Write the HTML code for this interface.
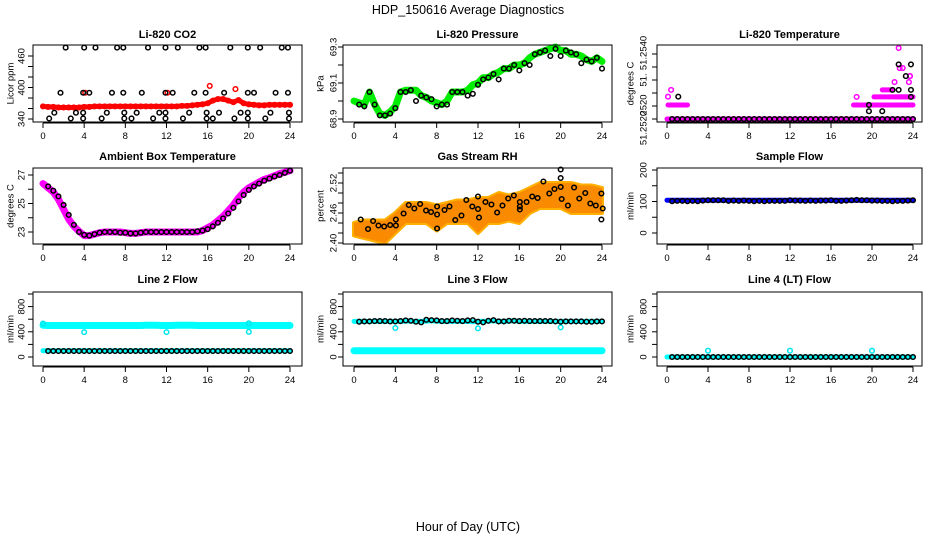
<!DOCTYPE html>
<html><head><meta charset="utf-8"><style>
html,body{margin:0;padding:0;background:#fff}
svg{display:block;font-family:"Liberation Sans",sans-serif}
</style></head><body>
<svg id="chart" width="936" height="540" viewBox="0 0 936 540">
<text x="468" y="14" text-anchor="middle" font-size="12.5">HDP_150616  Average Diagnostics</text>
<text x="468" y="531" text-anchor="middle" font-size="12.5">Hour of Day (UTC)</text>
</svg>
<script>
// ---------- data ----------
const xTicks = [0,4,8,12,16,20,24];
const halfHours = [0,0.5,1,1.5,2,2.5,3,3.5,4,4.5,5,5.5,6,6.5,7,7.5,8,8.5,9,9.5,10,10.5,11,11.5,12,12.5,13,13.5,14,14.5,15,15.5,16,16.5,17,17.5,18,18.5,19,19.5,20,20.5,21,21.5,22,22.5,23,23.5,24];
const blackHours = [0.5,1,1.5,2,2.5,3,3.5,4,4.5,5,5.5,6,6.5,7,7.5,8,8.5,9,9.5,10,10.5,11,11.5,12,12.5,13,13.5,14,14.5,15,15.5,16,16.5,17,17.5,18,18.5,19,19.5,20,20.5,21,21.5,22,22.5,23,23.5,24];

// CO2
const co2RedV = [364,363,363,362,362,362,362,362,363,363,364,364,364,364,364,364,364,364,364,364,364,364,364,364,364,364,364,365,365,366,367,368,370,375,378,378,375,372,376,370,368,367,366,366,367,367,367,367,367];
const co2RedOutH = [16.2,18.7,4.1,12.1];
const co2RedOutV = [403,397,390,390];
const co2BlackH = [2.2,4.0,5.1,7.2,7.8,10.2,11.9,13.1,15.2,15.8,18.2,19.9,21.1,23.2,23.8, 1.7,3.9,4.5,6.7,7.8,9.6,11.9,12.6,14.7,15.8,17.6,19.9,20.5,22.6,23.8, 1.1,3.2,3.9,6.2,7.9,9.1,11.3,11.9,14.2,15.9,17.1,19.2,19.9,22.1,23.9, 0.6,2.7,3.9,5.7,7.9,8.6,10.7,11.9,13.6,15.9,16.5,18.6,19.9,21.6,23.9];
const co2BlackV = [476,476,476,476,476,476,476,476,476,476,476,476,476,476,476, 390,390,390,390,390,390,390,390,390,390,390,390,390,390,390, 352,352,352,352,352,352,352,352,352,352,352,352,352,352,352, 341,341,341,341,341,341,341,341,341,341,341,341,341,341,341];

// Pressure
const presGreenV = [69.0,68.99,68.98,69.05,68.98,68.93,68.92,68.94,68.97,69.05,69.06,69.06,69.06,69.03,69.02,69.0,68.99,68.98,69.0,69.05,69.05,69.05,69.06,69.09,69.1,69.13,69.13,69.15,69.16,69.18,69.18,69.2,69.2,69.21,69.24,69.26,69.27,69.28,69.29,69.30,69.28,69.28,69.26,69.26,69.25,69.23,69.22,69.24,69.22];
const presBlackV = [68.98,68.97,69.05,68.98,68.92,68.92,68.93,68.96,69.05,69.05,69.06,69.0,69.03,69.02,69.01,68.97,68.98,68.98,69.05,69.05,69.05,69.03,69.04,69.09,69.12,69.13,69.15,69.12,69.18,69.18,69.2,69.17,69.21,69.2,69.26,69.27,69.28,69.25,69.29,69.25,69.28,69.27,69.26,69.21,69.23,69.22,69.24,69.18];

// Li-820 temperature
const tempBandStart = [0,0.1,18.2,19.5,20.2,21.0,22.3];
const tempBandEnd = [24,2.0,19.5,24,24,22,23.6];
const tempBandV = [51.2520,51.25254,51.25254,51.25254,51.25285,51.25312,51.25285];
const tempMagH = [0.1,0.4,18.5,22.2,22.7,22.6,23.7,23.7,23.6,23.0];
const tempMagV = [51.25286,51.25312,51.25285,51.25342,51.25396,51.25473,51.25365,51.25365,51.25342,51.25396];
const tempBlackH = [0.5,1,1.5,2,2.5,3,3.5,4,4.5,5,5.5,6,6.5,7,7.5,8,8.5,9,9.5,10,10.5,11,11.5,12,12.5,13,13.5,14,14.5,15,15.5,16,16.5,17,17.5,18,18.5,19,19.5,20,20.5,21,21.5,22,22.5,23,23.5,24, 1.1,19.7,19.7,21.0,22.0,22.6,22.6,23.3,23.8,23.8,23.8];
const tempBlackV = [51.2520,51.2520,51.2520,51.2520,51.2520,51.2520,51.2520,51.2520,51.2520,51.2520,51.2520,51.2520,51.2520,51.2520,51.2520,51.2520,51.2520,51.2520,51.2520,51.2520,51.2520,51.2520,51.2520,51.2520,51.2520,51.2520,51.2520,51.2520,51.2520,51.2520,51.2520,51.2520,51.2520,51.2520,51.2520,51.2520,51.2520,51.2520,51.2520,51.2520,51.2520,51.2520,51.2520,51.2520,51.2520,51.2520,51.2520,51.2520, 51.25286,51.25254,51.25230,51.25230,51.25312,51.25410,51.25312,51.25365,51.25410,51.25312,51.25285];

// Ambient box
const ambMagV = [26.4,26.1,25.8,25.3,24.6,23.9,23.4,23.05,22.75,22.75,22.85,22.95,23.0,23.0,23.0,23.0,22.95,22.9,22.9,22.95,23.0,23.0,23.0,23.0,23.0,23.0,23.0,23.0,23.0,23.0,23.0,23.1,23.3,23.5,23.8,24.1,24.5,24.9,25.4,25.8,26.1,26.3,26.5,26.7,26.8,26.95,27.1,27.2,27.3];
const ambBlackV = [26.2,25.9,25.5,24.9,24.2,23.5,23.0,22.8,22.75,22.85,22.95,23.0,23.0,23.0,22.95,22.95,22.9,22.9,22.95,23.0,23.0,23.0,23.0,23.0,23.0,23.0,23.0,23.0,23.0,23.05,23.1,23.2,23.4,23.65,23.95,24.3,24.7,25.15,25.6,25.95,26.2,26.4,26.6,26.75,26.9,27.0,27.15,27.3];

// Gas stream RH
const rhBandHours = [0,1,2,3,4,5,6,7,8,9,10,11,12,13,14,15,16,17,18,19,20,21,22,23,24];
const rhBandLo = [2.415,2.41,2.405,2.40,2.42,2.44,2.44,2.44,2.425,2.44,2.44,2.44,2.42,2.44,2.44,2.445,2.44,2.46,2.47,2.47,2.47,2.46,2.46,2.46,2.46];
const rhBandHi = [2.44,2.445,2.445,2.445,2.46,2.48,2.48,2.48,2.475,2.48,2.485,2.485,2.49,2.49,2.50,2.495,2.50,2.51,2.52,2.52,2.52,2.52,2.515,2.515,2.51];
const rhBlackH = [0.65,1.36,1.85,2.37,2.92,3.5,4.05,4.05,4.8,5.3,5.84,6.4,6.97,7.46,8.04,8.04,8.04,8.76,9.24,9.8,10.4,10.87,11.45,12.0,12.0,12.1,12.72,13.3,13.85,14.37,14.92,15.47,16.05,16.05,16.05,16.7,17.25,17.77,18.33,18.9,19.4,20.0,20.0,20.0,20.1,20.7,21.3,21.8,22.38,22.87,23.4,23.94,24.07,23.94];
const rhBlackV = [2.447,2.428,2.444,2.435,2.433,2.436,2.435,2.447,2.459,2.476,2.469,2.478,2.465,2.462,2.473,2.457,2.429,2.466,2.473,2.446,2.455,2.486,2.473,2.468,2.493,2.451,2.482,2.477,2.461,2.475,2.489,2.495,2.482,2.473,2.467,2.482,2.493,2.49,2.523,2.499,2.508,2.547,2.53,2.512,2.488,2.475,2.511,2.489,2.50,2.479,2.475,2.499,2.469,2.447];

// Flows
const sampleBlueV = [104,104,104,104,104,104,104,104,104,104,104,104,104,104,104,104,104,104,104,104,104,104,104,104,104,104,104,104,104,104,104,104,104,104,104,104,104,104,104,104,104,104,104,104,104,104,104,104,104];
const sampleBlackV = [101,102,102,101,102,101,103,104,104,104,104,102,103,102,103,102,101,102,101,102,102,102,102,104,103,103,102,103,102,103,103,104,102,102,103,104,105,104,104,103,103,102,102,101,102,102,103,104];
const line2CyanHiV = [505,500,500,500,500,500,500,500,500,500,500,500,500,500,500,500,500,500,500,500,505,505,505,500,500,500,505,505,505,505,500,500,500,500,500,500,500,500,500,500,500,500,500,500,500,500,500,500,500];
const line2CyanLoV = [100,100,100,100,100,100,100,100,100,100,100,100,100,100,100,100,100,100,100,100,100,100,100,100,100,100,100,100,100,100,100,100,100,100,100,100,100,100,100,100,100,100,100,100,100,100,100,100,100];
const line2BlackV = [95,95,95,95,95,95,95,95,95,95,95,95,95,95,95,95,95,95,95,95,95,95,95,95,95,95,95,95,95,95,95,95,95,95,95,95,95,95,95,95,95,95,95,95,95,95,95,95];
const line2OutH = [0,4,12,20,20];
const line2OutV = [530,395,395,400,535];
const line3CyanLoV = [100,100,100,100,100,100,100,100,100,100,100,100,100,100,100,100,100,100,100,100,100,100,100,100,100,100,100,100,100,100,100,100,100,100,100,100,100,100,100,100,100,100,100,100,100,100,100,100,100];
const line3CyanHiV = [565,565,565,565,565,565,565,565,565,565,570,570,565,565,570,575,570,565,565,565,565,565,565,560,565,565,570,575,565,565,570,575,565,565,565,565,565,565,565,565,565,565,565,565,565,565,565,565,565];
const line3BlackV = [560,565,565,570,570,570,565,565,570,580,575,560,550,590,585,580,570,570,580,575,570,580,585,560,550,575,585,565,565,575,575,570,575,570,570,570,570,570,565,560,565,565,565,565,560,560,565,565];
const line3OutH = [4,12,20];
const line3OutV = [460,455,470];
const line4CyanV = [0,0,0,0,0,0,0,0,0,0,0,0,0,0,0,0,0,0,0,0,0,0,0,0,0,0,0,0,0,0,0,0,0,0,0,0,0,0,0,0,0,0,0,0,0,0,0,0,0];
const line4BlackV = [0,0,0,0,0,0,0,0,0,0,0,0,0,0,0,0,0,0,0,0,0,0,0,0,0,0,0,0,0,0,0,0,0,0,0,0,0,0,0,0,0,0,0,0,0,0,0,0];
const line4OutH = [4,12,20];
const line4OutV = [100,100,100];

// ---------- drawing ----------
const NS = "http://www.w3.org/2000/svg";
const svg = document.getElementById("chart");
function mk(tag, attrs, parent){
  const e = document.createElementNS(NS, tag);
  for (const k in attrs) e.setAttribute(k, attrs[k]);
  (parent || svg).appendChild(e);
  return e;
}
const COLS = [
  {bl:33,br:302,x0:43,x24:290,ylabX:10,tickLabX:21},
  {bl:343,br:612,x0:354,x24:602,ylabX:320,tickLabX:333},
  {bl:657,br:922,x0:667,x24:913,ylabX:630,tickLabX:643}
];
const ROWS = [{bt:45,bb:122,ty:38},{bt:168,bb:244,ty:160},{bt:292,bb:366,ty:283}];
const TF = 9.5;

function panel(name, title, ylab, c, r, v0, p0, v1, p1, yTicks, yLabels){
  const col = COLS[c], row = ROWS[r];
  const g = mk("g", {});
  
  
  const sx = h => col.x0 + (h / 24) * (col.x24 - col.x0);
  const sy = v => p0 + (v - v0) / (v1 - v0) * (p1 - p0);
  const plot = mk("g", {}, g);
  
  
  const box = mk("rect", {x:col.bl, y:row.bt, width:col.br-col.bl, height:row.bb-row.bt, fill:"none", stroke:"#000", "stroke-width":1}, g);
  
  
  const t = mk("text", {x:(col.bl+col.br)/2, y:row.ty, "text-anchor":"middle", "font-size":11, "font-weight":"bold"}, g);
  t.textContent = title;
  
  
  const yl = mk("text", {x:col.ylabX, y:(row.bt+row.bb)/2, "text-anchor":"middle", "font-size":TF, transform:`rotate(-90 ${col.ylabX} ${(row.bt+row.bb)/2})`, dy:"0.35em"}, g);
  yl.textContent = ylab;
  
  
  const xa = mk("g", {}, g);
  
  
  const ay = row.bb + 1;
  mk("line", {x1:sx(0), x2:sx(24), y1:ay, y2:ay, stroke:"#000"}, xa);
  xTicks.forEach(h => {
    mk("line", {x1:sx(h), x2:sx(h), y1:ay, y2:ay+5, stroke:"#000"}, xa);
    const tl = mk("text", {x:sx(h), y:ay+16, "text-anchor":"middle", "font-size":TF}, xa);
    tl.textContent = h;
    
    
  });
  const ya = mk("g", {}, g);
  
  
  const ax = col.bl;
  mk("line", {x1:ax, x2:ax, y1:sy(yTicks[0]), y2:sy(yTicks[yTicks.length-1]), stroke:"#000"}, ya);
  yTicks.forEach(v => mk("line", {x1:ax-5, x2:ax, y1:sy(v), y2:sy(v), stroke:"#000"}, ya));
  yLabels.forEach(l => {
    const yy = sy(l.v);
    const tl = mk("text", {x:col.tickLabX, y:yy, "text-anchor":"middle", "font-size":TF, dy:"0.35em", transform:`rotate(-90 ${col.tickLabX} ${yy})`}, ya);
    tl.textContent = l.t;
    
    
  });
  return {sx, sy, g: plot};
}
function band(P, hs, vs, color, w, name){
  const pts = hs.map((h,i) => P.sx(h).toFixed(1)+","+P.sy(vs[i]).toFixed(1)).join(" ");
  const pl = mk("polyline", {points:pts, fill:"none", stroke:color, "stroke-width":w, "stroke-linejoin":"round", "stroke-linecap":"round"}, P.g);
  
  
}
function pts(P, hs, vs, color, name, r){
  const gg = mk("g", {}, P.g);
  
  
  hs.forEach((h,i) => {
    const c = mk("circle", {cx:P.sx(h), cy:P.sy(vs[i]), r:r||2.3, fill:"none", stroke:color, "stroke-width":1.5}, gg);
    
    
  });
}
const L = a => a.map(v => ({v, t:String(v)}));

let P = panel("co2", "Li-820 CO2", "Licor ppm", 0, 0, 340, 119, 460, 56, [340,360,380,400,420,440,460], L([340,400,460]));
band(P, halfHours, co2RedV, "#ff0000", 5, "co2-red-series");
pts(P, halfHours, co2RedV, "#ff0000", "co2-red-points");
pts(P, co2RedOutH, co2RedOutV, "#ff0000", "co2-red-outliers");
pts(P, co2BlackH, co2BlackV, "#000", "co2-black-points");

P = panel("pressure", "Li-820 Pressure", "kPa", 1, 0, 68.9, 119, 69.3, 47, [68.9,69.0,69.1,69.2,69.3], L([68.9,69.1,69.3]));
band(P, halfHours, presGreenV, "#00ee00", 7, "pressure-green-series");
pts(P, blackHours, presBlackV, "#000", "pressure-black-points");

P = panel("temperature", "Li-820 Temperature", "degrees C", 2, 0, 51.2520, 119, 51.2545, 54, [51.2520,51.2525,51.2530,51.2535,51.2540,51.2545], []);
[["51.2540",53],["51.",80],["2520",105],["51.2520",128]].forEach(([t,y]) => {
  const tl = mk("text", {x:643, y:y, "text-anchor":"middle", "font-size":TF, dy:"0.35em", transform:`rotate(-90 643 ${y})`});
  tl.textContent = t;
  
  
});
tempBandStart.forEach((s,i) => band(P, [s, tempBandEnd[i]], [tempBandV[i], tempBandV[i]], "#ff00ff", 5, "temperature-magenta-band"));
pts(P, tempMagH, tempMagV, "#ff00ff", "temperature-magenta-points");
pts(P, tempBlackH, tempBlackV, "#000", "temperature-black-points");

P = panel("ambient", "Ambient Box Temperature", "degrees C", 0, 1, 23, 232, 27, 175, [23,24,25,26,27], L([23,25,27]));
band(P, halfHours, ambMagV, "#ff00ff", 7, "ambient-magenta-series");
pts(P, blackHours, ambBlackV, "#000", "ambient-black-points");

P = panel("rh", "Gas Stream RH", "percent", 1, 1, 2.40, 243, 2.54, 173, [2.40,2.42,2.44,2.46,2.48,2.50,2.52,2.54], L([2.40,2.46,2.52]).map(o=>({v:o.v,t:o.v.toFixed(2)})));
{
  const up = rhBandHours.map((h,i) => P.sx(h).toFixed(1)+","+P.sy(rhBandHi[i]).toFixed(1));
  const dn = rhBandHours.map((h,i) => P.sx(h).toFixed(1)+","+P.sy(rhBandLo[i]).toFixed(1)).reverse();
  const pg = mk("polygon", {points: up.concat(dn).join(" "), fill:"#ffb000", stroke:"#ffb000", "stroke-width":4, "stroke-linejoin":"round"}, P.g);
  
  
  const pg2 = mk("polygon", {points: up.concat(dn).join(" "), fill:"#ee3300", "fill-opacity":0.3, stroke:"none"}, P.g);
  
  
}
pts(P, rhBlackH, rhBlackV, "#000", "rh-black-points");

P = panel("sample-flow", "Sample Flow", "ml/min", 2, 1, 0, 233, 200, 170, [0,50,100,150,200], L([0,100,200]));
band(P, halfHours, sampleBlueV, "#0000ff", 5, "sample-flow-blue-series");
pts(P, blackHours, sampleBlackV, "#000", "sample-flow-black-points");

P = panel("line2-flow", "Line 2 Flow", "ml/min", 0, 2, 0, 357, 1000, 294, [0,200,400,600,800,1000], L([0,400,800]));
band(P, halfHours, line2CyanHiV, "#00ffff", 7, "line2-cyan-high-series");
band(P, halfHours, line2CyanLoV, "#00ffff", 5, "line2-cyan-low-series");
pts(P, line2OutH, line2OutV, "#00e5ee", "line2-cyan-outliers");
pts(P, blackHours, line2BlackV, "#000", "line2-black-points");

P = panel("line3-flow", "Line 3 Flow", "ml/min", 1, 2, 0, 357, 1000, 294, [0,200,400,600,800,1000], L([0,400,800]));
band(P, halfHours, line3CyanLoV, "#00ffff", 7, "line3-cyan-low-series");
band(P, halfHours, line3CyanHiV, "#00ffff", 5, "line3-cyan-high-series");
pts(P, line3OutH, line3OutV, "#00e5ee", "line3-cyan-outliers");
pts(P, blackHours, line3BlackV, "#000", "line3-black-points");

P = panel("line4-flow", "Line 4 (LT) Flow", "ml/min", 2, 2, 0, 357, 1000, 294, [0,200,400,600,800,1000], L([0,400,800]));
band(P, halfHours, line4CyanV, "#00ffff", 5, "line4-cyan-series");
pts(P, line4OutH, line4OutV, "#00e5ee", "line4-cyan-outliers");
pts(P, blackHours, line4BlackV, "#000", "line4-black-points");
</script>
</body></html>
